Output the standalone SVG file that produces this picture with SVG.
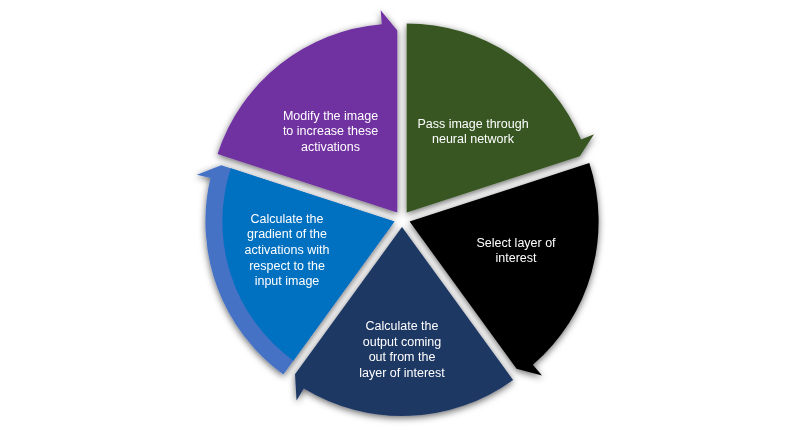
<svg xmlns="http://www.w3.org/2000/svg" width="800" height="434" viewBox="0 0 800 434">
  <defs>
    <filter id="sh" x="-20%" y="-20%" width="140%" height="140%">
      <feDropShadow dx="0" dy="2" stdDeviation="3.5" flood-color="#000" flood-opacity="0.6"/>
    </filter>
    <style>
      text { font-family: "Liberation Sans", Arial, sans-serif; font-size: 12.5px; fill: #ffffff; text-anchor: middle; }
    </style>
  </defs>
  <rect width="800" height="434" fill="#ffffff"/>
  <g id="cycle" filter="url(#sh)">
    <g id="node-pass">
      <path d="M406.7,212.5 L406.7,23.5 A189,189 0 0 1 581.10,139.56 L594.02,134.16 L579.79,156.26 Z" fill="#385723"/>
      <text x="473" y="127.5">Pass image through</text>
      <text x="473" y="142.5">neural network</text>
    </g>
    <g id="node-select">
      <path d="M409.6,221.5 L589.35,163.10 A189,189 0 0 1 532.85,364.79 L541.98,375.40 L516.58,368.74 Z" fill="#000000"/>
      <text x="516" y="246.5">Select layer of</text>
      <text x="516" y="261.5">interest</text>
    </g>
    <g id="node-output">
      <path d="M402,227 L513.09,379.90 A189,189 0 0 1 303.81,388.49 L296.54,400.46 L295.02,374.24 Z" fill="#1F3864"/>
      <text x="402" y="330">Calculate the</text>
      <text x="402" y="345.5">output coming</text>
      <text x="402" y="361">out from the</text>
      <text x="402" y="376.5">layer of interest</text>
    </g>
    <g id="node-gradient">
      <path d="M394.4,221.5 L283.31,374.40 A189,189 0 0 1 210.47,178.02 L196.84,174.80 L221.31,165.26 Z" fill="#4472C4"/>
      <path d="M394.4,221.5 L293.30,360.65 A172,172 0 0 1 230.82,168.35 Z" fill="#0070C0"/>
      <text x="287" y="222.5">Calculate the</text>
      <text x="287" y="238">gradient of the</text>
      <text x="287" y="254">activations with</text>
      <text x="287" y="269.5">respect to the</text>
      <text x="287" y="285">input image</text>
    </g>
    <g id="node-modify">
      <path d="M397.3,212.5 L217.55,154.10 A189,189 0 0 1 381.81,24.13 L380.67,10.18 L397.3,30.5 Z" fill="#7030A0"/>
      <text x="330.5" y="119.5">Modify the image</text>
      <text x="330.5" y="135">to increase these</text>
      <text x="330.5" y="150.5">activations</text>
    </g>
  </g>
  <g id="connectors"/>
</svg>
